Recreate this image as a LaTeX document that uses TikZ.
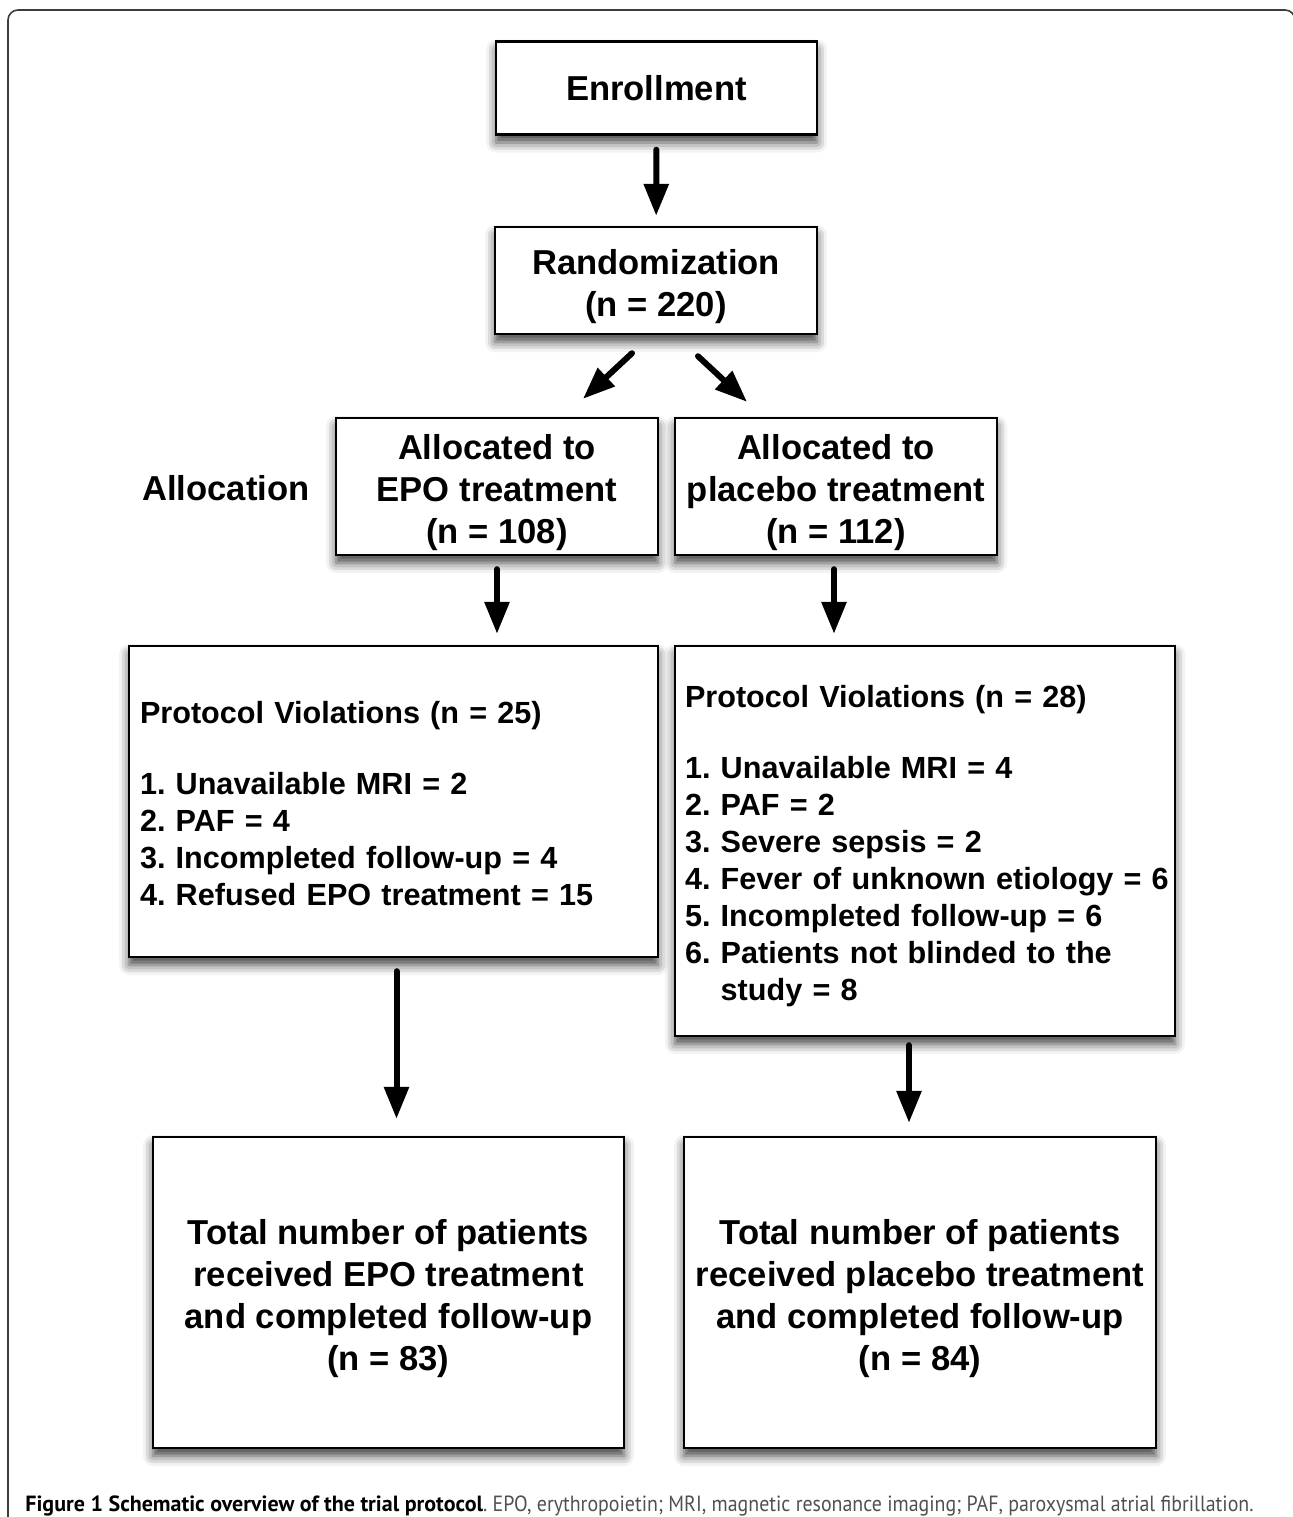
\documentclass[tikz,border=0pt]{standalone}
\usepackage{fontspec}
\setmainfont{Liberation Sans}
\newfontfamily\capfont{PT Sans}
\usepackage{graphicx}
\usepackage{tikz}
\usetikzlibrary{positioning, arrows.meta, shadows.blur, calc}
\frenchspacing

\definecolor{capgray}{RGB}{80,80,80}
\definecolor{framegray}{RGB}{60,60,60}
\newcommand{\bigstrut}{\rule{0pt}{18.5pt}}
\newcommand{\liststrut}[1]{\rule{0pt}{#1}}

\begin{document}
\begin{tikzpicture}[
            x=0.5pt, y=-0.5pt,
            box/.style={draw, fill=white, line width=1.2pt, inner sep=0pt, align=center,
                        blur shadow={shadow xshift=0pt, shadow yshift=-4pt,
                                     shadow blur radius=5pt, shadow opacity=75}},
            bigtxt/.style={font=\fontsize{17.3}{21}\selectfont\bfseries},
            listtxt/.style={font=\fontsize{15.3}{18.5}\selectfont\bfseries, align=left},
            arr/.style={-{Triangle[length=16pt, width=12pt]}, line width=3pt, line cap=round}
        ]
        \useasboundingbox (0,0) rectangle (1292,1517);

        % outer frame, open at the bottom
        \draw[framegray, line width=0.8pt, rounded corners=5pt]
            (8,1530) -- (8,10) -- (1295,10) -- (1295,1530);

        % top of the chart
        \node[box, bigtxt, minimum width=160.5pt, minimum height=46.5pt] (enroll) at (656.5,88) {Enrollment};
        \node[box, bigtxt, minimum width=161pt, minimum height=53.5pt] (random) at (656,280.5)
            {\bigstrut Randomization\\(n = 220)};

        % allocation row
        \node[bigtxt] (alloclabel) at (226,488) {Allocation};
        \node[box, bigtxt, minimum width=161pt, minimum height=68.5pt] (epo) at (497,486.5)
            {\bigstrut Allocated to\\EPO treatment\\(n = 108)};
        \node[box, bigtxt, minimum width=161pt, minimum height=68.5pt] (placebo) at (836,486.5)
            {\bigstrut Allocated to\\placebo treatment\\(n = 112)};

        % protocol violations
        \node[box, listtxt, inner xsep=5.5pt, text width=253.5pt, minimum height=155.5pt] (pvepo) at (393.5,801.5)
            {\liststrut{13.2pt}Protocol Violations (n = 25)\\[17pt]
             1. Unavailable MRI = 2\\
             2. PAF = 4\\
             3. Incompleted follow-up = 4\\
             4. Refused EPO treatment = 15};
        \node[box, listtxt, inner xsep=5pt, text width=240pt, minimum height=195pt] (pvplacebo) at (925,841)
            {\liststrut{16.5pt}Protocol Violations (n = 28)\\[17pt]
             1. Unavailable MRI = 4\\
             2. PAF = 2\\
             3. Severe sepsis = 2\\
             \mbox{4. Fever of unknown etiology = 6}\\
             5. Incompleted follow-up = 6\\
             6. Patients not blinded to the\\
             \phantom{6. }study = 8};

        % totals
        \node[box, bigtxt, minimum width=235.5pt, minimum height=155.5pt] (totepo) at (388.5,1292.5)
            {\bigstrut Total number of patients\\received EPO treatment\\and completed follow-up\\(n = 83)};
        \node[box, bigtxt, minimum width=236pt, minimum height=155.5pt] (totplacebo) at (920,1292.5)
            {\bigstrut Total number of patients\\received placebo treatment\\and completed follow-up\\(n = 84)};

        % arrows
        \draw[arr, shorten <=7pt, shorten >=5pt] (enroll) -- (random);
        \draw[arr] ([xshift=-12pt, yshift=-9pt]random.south) -- ([xshift=43pt, yshift=9pt]epo.north);
        \draw[arr] ([xshift=21pt, yshift=-10.5pt]random.south) -- ([xshift=-44.5pt, yshift=7.5pt]placebo.north);
        \draw[arr, shorten <=6.5pt, shorten >=5.5pt] (epo.south) -- (epo.south |- pvepo.north);
        \draw[arr, shorten <=6.5pt, shorten >=5.5pt] ([xshift=-1pt]placebo.south) -- ([xshift=-1pt]placebo.south |- pvplacebo.north);
        \draw[arr, shorten <=6.5pt, shorten >=8.5pt] ([xshift=1.5pt]pvepo.south) -- ([xshift=1.5pt]pvepo.south |- totepo.north);
        \draw[arr, shorten <=4pt, shorten >=6.5pt] ([xshift=-8pt]pvplacebo.south) -- ([xshift=-8pt]pvplacebo.south |- totplacebo.north);

        % caption
        \node[anchor=base west, inner sep=0pt, font=\capfont\fontsize{11}{13}\selectfont] (caption) at (25,1511)
            {\textbf{Figure 1 Schematic overview of the trial protocol}\textcolor{capgray}{\scalebox{0.905}[1]{. EPO, erythropoietin; MRI, magnetic resonance imaging; PAF, paroxysmal atrial fibrillation.}}};
\end{tikzpicture}
\end{document}
